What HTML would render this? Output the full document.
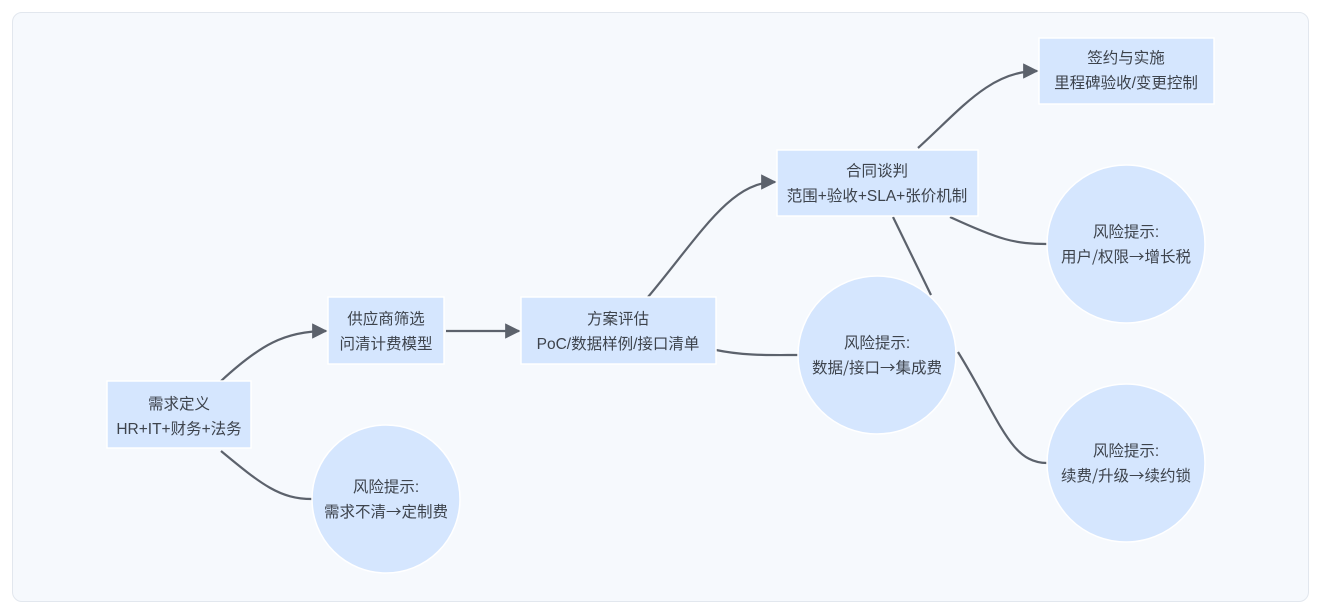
<!DOCTYPE html>
<html><head><meta charset="utf-8"><style>
html,body{margin:0;padding:0;background:#fff;}
body{width:1319px;height:611px;position:relative;overflow:hidden;font-family:"Liberation Sans","Noto Sans CJK SC",sans-serif;}
.wrap{position:absolute;left:12px;top:12px;width:1295px;height:588px;background:#f6f9fd;border:1px solid #e2e7ee;border-radius:10px;}
svg{position:absolute;left:0;top:0;}
text{font-family:"Liberation Sans","Noto Sans CJK SC",sans-serif;font-size:15.5px;fill:#3d434c;text-anchor:middle;}
.ar{font-family:"Noto Sans CJK SC",sans-serif;}
</style></head><body>
<div class="wrap"></div>
<svg width="1319" height="611" viewBox="0 0 1319 611">
<defs><marker id="a" viewBox="0 0 10 10" refX="9" refY="5" markerWidth="7" markerHeight="7" orient="auto"><path d="M0,0L10,5L0,10z" fill="#5c626c"/></marker></defs>
<g fill="none" stroke="#5c626c" stroke-width="2.2">
<path d="M221,381 C260,345 285,331 326,331" marker-end="url(#a)"/>
<path d="M221,451 C262,485 280,499 312,499"/>
<path d="M446,331 L519,331" marker-end="url(#a)"/>
<path d="M648,297 C700,235 730,182 775,182" marker-end="url(#a)"/>
<path d="M716,350 C745,356 770,355 798,355"/>
<path d="M918,148 C960,110 990,71 1037,71" marker-end="url(#a)"/>
<path d="M950,217 C1000,240 1015,244 1047,244"/>
<path d="M893,217 L931,295"/>
<path d="M958,352 C1000,420 1010,463 1047,463"/>
</g>
<g fill="#d5e6fe" stroke="#fff" stroke-width="1.5">
<rect x="107" y="381" width="144" height="67"/>
<rect x="328" y="297" width="116" height="67"/>
<rect x="521" y="297" width="195" height="67"/>
<rect x="777" y="150" width="201" height="66"/>
<rect x="1039" y="38" width="175" height="66"/>
<circle cx="386" cy="499" r="74"/>
<circle cx="877" cy="355" r="79"/>
<circle cx="1126" cy="244" r="79"/>
<circle cx="1126" cy="463" r="79"/>
</g>
<text x="179" y="409">需求定义</text><text x="179" y="434">HR+IT+财务+法务</text>
<text x="386" y="324">供应商筛选</text><text x="386" y="349">问清计费模型</text>
<text x="618" y="324">方案评估</text><text x="618" y="349">PoC/数据样例/接口清单</text>
<text x="877" y="176">合同谈判</text><text x="877" y="201">范围+验收+SLA+张价机制</text>
<text x="1126" y="63">签约与实施</text><text x="1126" y="88">里程碑验收/变更控制</text>
<text x="386" y="492">风险提示:</text><text x="386" y="517" class="ar">需求不清→定制费</text>
<text x="877" y="348">风险提示:</text><text x="877" y="373" class="ar">数据/接口→集成费</text>
<text x="1126" y="237">风险提示:</text><text x="1126" y="262" class="ar">用户/权限→增长税</text>
<text x="1126" y="456">风险提示:</text><text x="1126" y="481" class="ar">续费/升级→续约锁</text>
</svg>
</body></html>
